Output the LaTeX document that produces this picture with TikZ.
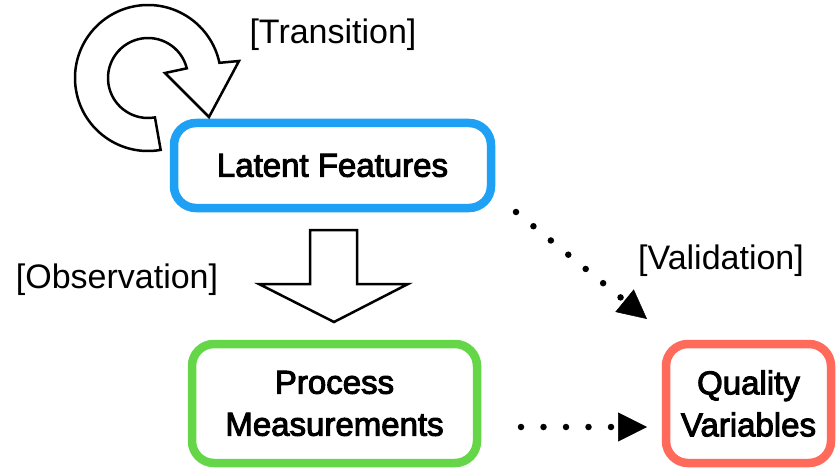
\documentclass[tikz,border=0pt]{standalone}
\usepackage{fontspec}
\setmainfont{Liberation Sans}
\newfontfamily\boxfont[RawFeature={embolden=3}]{Liberation Sans}
\usetikzlibrary{arrows.meta,calc}
\definecolor{latblue}{RGB}{30,160,245}
\definecolor{procgreen}{RGB}{100,214,72}
\definecolor{qualred}{RGB}{255,106,90}
\begin{document}
\begin{tikzpicture}[x=1pt,y=1pt,
  box/.style={draw, line width=8.5pt, rounded corners=22pt, align=center,
    inner sep=0pt, outer sep=0pt, font=\boxfont\fontsize{33}{42}\selectfont},
  lbl/.style={inner sep=0pt, font=\fontsize{34}{40}\selectfont},
  hollow/.style={draw=black, fill=white, line width=2.5pt, line join=miter},
  dotlink/.style={line width=6.5pt, line cap=round, dash pattern=on 0pt off 22.5pt,
    -{Triangle[length=29pt,width=29pt,line width=0.5pt]}}]
\useasboundingbox (0,0) rectangle (836,467);

% boxes
\node[box, draw=latblue, minimum width=317pt, minimum height=85pt] (lat) at (332.5,301.5) {Latent Features};
\node[box, draw=procgreen, minimum width=285pt, minimum height=119pt] (proc) at (334.5,63.5) {Process\\Measurements};
\node[box, draw=qualred, minimum width=165pt, minimum height=119pt] (qual) at (748.5,63.5) {Quality\\Variables};

% labels
\node[lbl] (ltrans) at (333,432) {[Transition]};
\node[lbl] (lobs) at (117,187) {[Observation]};
\node[lbl] (lval) at (721,206) {[Validation]};

% self loop on the latent features
\coordinate (loopc) at (148,389);
\draw[hollow] ($(loopc)+(280:73)$) arc[start angle=280, end angle=12, radius=73]
  -- (239,406) -- (209,350) -- (165,394)
  -- ($(loopc)+(14:40)$) arc[start angle=14, end angle=280, radius=40] -- cycle;

% observation: hollow block arrow
\draw[hollow] (310,237) -- (357,237) -- (357,183) -- (408,183) -- (334,145)
  -- (259,183) -- (310,183) -- cycle;

% dotted links
\draw[dotlink] ($(lat.south east)+(25,-4)$) -- ($(qual.north west)+(-19,25)$);
\draw[dotlink] ($(proc.east)+(44,-23.5)$) -- ($(qual.west)+(-19,-23.5)$);
\end{tikzpicture}
\end{document}
